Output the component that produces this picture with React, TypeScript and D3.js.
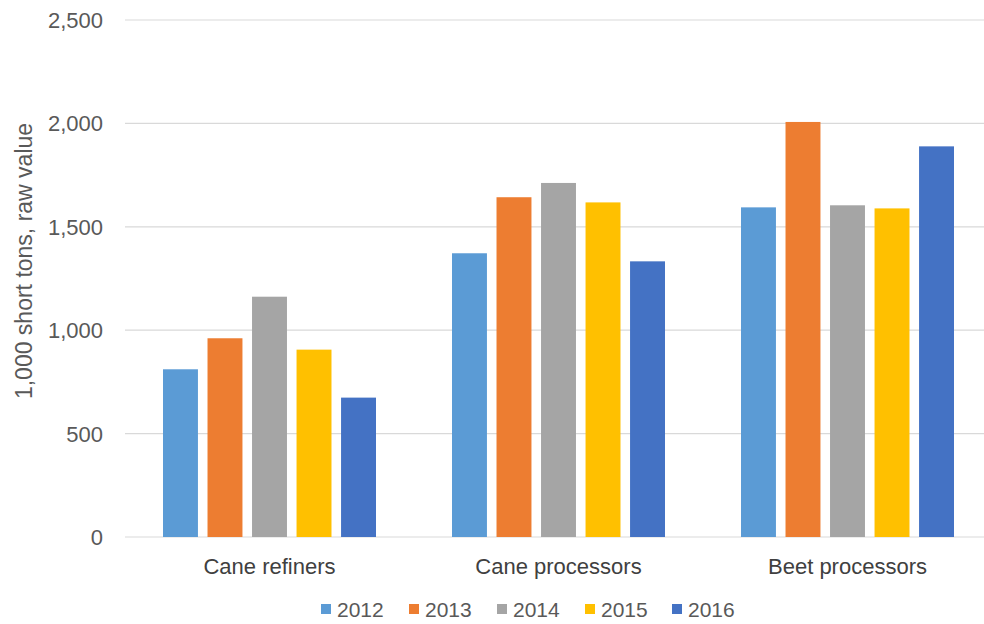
import React from "react";
import * as d3 from "d3";

const categories = ["Cane refiners", "Cane processors", "Beet processors"];
const years = ["2012", "2013", "2014", "2015", "2016"];
const values2012 = [811, 1372, 1594];
const values2013 = [961, 1643, 2007];
const values2014 = [1162, 1712, 1604];
const values2015 = [906, 1618, 1589];
const values2016 = [674, 1333, 1889];
const yTicks = [0, 500, 1000, 1500, 2000, 2500];
const colors = ["#5b9bd5", "#ed7d31", "#a5a5a5", "#ffc000", "#4472c4"];

const series = [values2012, values2013, values2014, values2015, values2016];

const W = 984;
const H = 624;
const plotLeft = 125;
const plotRight = 992;
const plotTop = 20;
const plotBottom = 537;
const FONT = "'Liberation Sans', Arial, sans-serif";

export default function App() {
  const y = d3.scaleLinear().domain([0, 2500]).range([plotBottom, plotTop]);
  const x0 = d3.scaleBand<string>().domain(categories).range([plotLeft, plotRight]).padding(0);
  const outer = 38;
  const x1 = d3
    .scaleBand<string>()
    .domain(years)
    .range([outer, x0.bandwidth() - outer])
    .paddingInner(0.215)
    .paddingOuter(0);
  const fmt = d3.format(",");

  const legendX = [321, 409, 497, 585, 672];

  return (
    <svg width={W} height={H} style={{ position: "absolute", left: 0, top: 0, background: "#fff" }}>
      <rect x={0} y={0} width={W} height={H} fill="#fff" />
      {yTicks.map((t) => (
        <g key={t}>
          <line x1={plotLeft} x2={W} y1={y(t)} y2={y(t)} stroke="#d9d9d9" strokeWidth={1.2} />
          <text
            x={103}
            y={y(t)}
            dy="0.36em"
            textAnchor="end"
            fontFamily={FONT}
            fontSize={22}
            fill="#595959"
          >
            {fmt(t)}
          </text>
        </g>
      ))}
      {categories.map((c, ci) => (
        <g key={c} transform={`translate(${x0(c)},0)`}>
          {years.map((yr, si) => {
            const v = series[si][ci];
            return (
              <rect
                key={yr}
                x={x1(yr)}
                y={y(v)}
                width={x1.bandwidth()}
                height={y(0) - y(v)}
                fill={colors[si]}
              />
            );
          })}
          <text
            x={x0.bandwidth() / 2}
            y={574}
            textAnchor="middle"
            fontFamily={FONT}
            fontSize={22}
            fill="#404040"
          >
            {c}
          </text>
        </g>
      ))}
      <text
        transform={`translate(32,261) rotate(-90)`}
        textAnchor="middle"
        fontFamily={FONT}
        fontSize={23}
        fill="#595959"
      >
        1,000 short tons, raw value
      </text>
      {years.map((yr, i) => (
        <g key={yr} transform={`translate(${legendX[i]},0)`}>
          <rect x={0} y={604} width={10} height={10} fill={colors[i]} />
          <text x={16} y={617} fontFamily={FONT} fontSize={21} fill="#595959">
            {yr}
          </text>
        </g>
      ))}
    </svg>
  );
}
